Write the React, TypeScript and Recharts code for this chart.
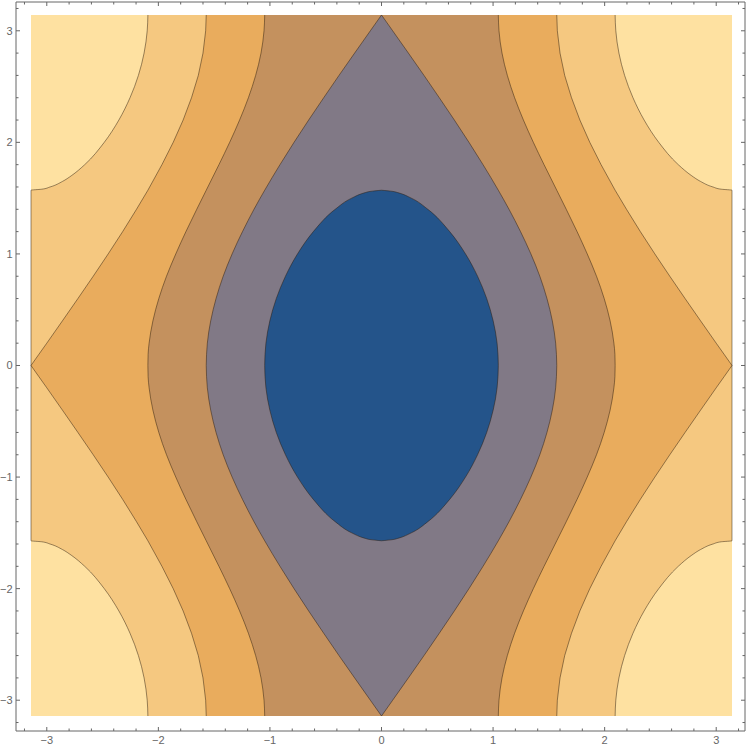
import { ComposedChart, Area, Line, XAxis, YAxis } from "recharts";

const PI = 3.1416;

// y positions of the samples (upper half; the lower half mirrors it)
const yLevels = [0, 0.1, 0.2, 0.4, 0.6, 0.8, 1.0, 1.2, 1.4, 1.5, 1.55, 1.56, 1.571, 1.58, 1.6, 1.65, 1.7, 1.8, 2.0, 2.2, 2.4, 2.6, 2.8, 3.0, 3.1416];

// half-width (|x|) of each contour band at those y
const blueHalf = [1.047, 1.044, 1.036, 1.001, 0.943, 0.861, 0.753, 0.611, 0.415, 0.267, 0.144, 0.104, 0, null, null, null, null, null, null, null, null, null, null, null, null];
const grayHalf = [1.571, 1.568, 1.561, 1.531, 1.483, 1.419, 1.339, 1.246, 1.143, null, null, null, 1.047, null, null, null, null, 0.91, 0.784, 0.653, 0.518, 0.381, 0.241, 0.1, 0];
const brownHalf = [2.094, 2.092, 2.083, 2.049, 1.996, 1.927, 1.844, 1.753, 1.656, null, null, null, 1.571, null, null, null, null, 1.457, 1.361, 1.272, 1.193, 1.128, 1.08, 1.053, 1.047];
const orangeHalf = [3.1416, 3.071, 3.0, 2.86, 2.721, 2.584, 2.45, 2.32, 2.196, null, null, null, 2.094, null, null, null, null, 1.968, 1.867, 1.778, 1.703, 1.642, 1.6, 1.576, 1.571];
const lightHalf = [3.1416, 3.1416, 3.1416, 3.1416, 3.1416, 3.1416, 3.1416, 3.1416, 3.1416, 3.1416, 3.1416, 3.1416, 3.1416, 3.046, 2.971, 2.859, 2.781, 2.66, 2.485, 2.354, 2.254, 2.179, 2.128, 2.1, 2.094];

const plotRange = [-PI, PI];
const frameDomain = [-3.276, 3.258];
const allTicks = [-3.2, -3, -2.8, -2.6, -2.4, -2.2, -2, -1.8, -1.6, -1.4, -1.2, -1, -0.8, -0.6, -0.4, -0.2, 0, 0.2, 0.4, 0.6, 0.8, 1, 1.2, 1.4, 1.6, 1.8, 2, 2.2, 2.4, 2.6, 2.8, 3, 3.2];

const colors = {
  lightest: "#FEE1A1",
  light: "#F5C880",
  orange: "#E9AC5D",
  brown: "#C4915E",
  gray: "#817986",
  blue: "#24548A",
};
const lineColor = "rgba(40,25,10,0.6)";
const frameColor = "#666";
const labelColor = "#666";
const fontFamily = "'Liberation Sans', Arial, sans-serif";

function makeRow(y: number, i: number) {
  // [null, null] keeps a gap out of both edges of a band
  const band = (v: number | null) => (v == null ? [null, null] : [-v, v]);
  const edge = Math.abs(y) >= 1.571;
  return {
    y,
    back: plotRange,
    light: band(lightHalf[i]),
    orange: band(orangeHalf[i]),
    brown: band(brownHalf[i]),
    gray: band(grayHalf[i]),
    blue: band(blueHalf[i]),
    lightL: edge ? -lightHalf[i] : null,
    lightR: edge ? lightHalf[i] : null,
  };
}

const rows: any[] = [];
for (let i = yLevels.length - 1; i > 0; i--) rows.push(makeRow(-yLevels[i], i));
for (let i = 0; i < yLevels.length; i++) rows.push(makeRow(yLevels[i], i));

const fmt = (v: number) => (v < 0 ? "\u2212" + Math.abs(v) : String(v));
const isMajor = (v: number) => Number.isInteger(v);

const BottomTick = (props: any) => {
  const { x, y, payload } = props;
  const v = payload.value;
  return (
    <g>
      <line x1={x} x2={x} y1={y} y2={y - (isMajor(v) ? 4 : 2.5)} stroke={frameColor} strokeWidth={1} />
      {isMajor(v) && (
        <text x={x} y={y + 13} textAnchor="middle" fontSize={11} fill={labelColor} fontFamily={fontFamily}>
          {fmt(v)}
        </text>
      )}
    </g>
  );
};

const TopTick = (props: any) => {
  const { x, y, payload } = props;
  const v = payload.value;
  return <line x1={x} x2={x} y1={y} y2={y + (isMajor(v) ? 4 : 2.5)} stroke={frameColor} strokeWidth={1} />;
};

const LeftTick = (props: any) => {
  const { x, y, payload } = props;
  const v = payload.value;
  return (
    <g>
      <line x1={x} x2={x + (isMajor(v) ? 4 : 2.5)} y1={y} y2={y} stroke={frameColor} strokeWidth={1} />
      {isMajor(v) && (
        <text x={x - 3.5} y={y + 4} textAnchor="end" fontSize={11} fill={labelColor} fontFamily={fontFamily}>
          {fmt(v)}
        </text>
      )}
    </g>
  );
};

const RightTick = (props: any) => {
  const { x, y, payload } = props;
  const v = payload.value;
  return <line x1={x} x2={x - (isMajor(v) ? 4 : 2.5)} y1={y} y2={y} stroke={frameColor} strokeWidth={1} />;
};

export default function App() {
  return (
    <div style={{ position: "absolute", left: 0, top: 0, width: 748, height: 747, background: "#fff" }}>
      <ComposedChart
        width={748}
        height={747}
        data={rows}
        layout="vertical"
        margin={{ top: 0, right: 0, bottom: 0, left: 0 }}
      >
        <XAxis
          type="number"
          domain={frameDomain}
          allowDataOverflow
          ticks={allTicks}
          interval={0}
          height={16}
          tickSize={0}
          tickMargin={0}
          tickLine={false}
          axisLine={{ stroke: frameColor }}
          tick={<BottomTick />}
        />
        <XAxis
          xAxisId="top"
          orientation="top"
          type="number"
          domain={frameDomain}
          allowDataOverflow
          ticks={allTicks}
          interval={0}
          height={2}
          tickSize={0}
          tickMargin={0}
          tickLine={false}
          axisLine={{ stroke: frameColor }}
          tick={<TopTick />}
        />
        <YAxis
          type="number"
          dataKey="y"
          domain={frameDomain}
          allowDataOverflow
          reversed
          ticks={allTicks}
          interval={0}
          width={16}
          tickSize={0}
          tickMargin={0}
          tickLine={false}
          axisLine={{ stroke: frameColor }}
          tick={<LeftTick />}
        />
        <YAxis
          yAxisId="right"
          orientation="right"
          type="number"
          dataKey="y"
          domain={frameDomain}
          allowDataOverflow
          reversed
          ticks={allTicks}
          interval={0}
          width={3}
          tickSize={0}
          tickMargin={0}
          tickLine={false}
          axisLine={{ stroke: frameColor }}
          tick={<RightTick />}
        />

        <Area dataKey="back" type="linear" fill={colors.lightest} fillOpacity={1} stroke="none" isAnimationActive={false} />
        <Area dataKey="light" type="monotone" connectNulls fill={colors.light} fillOpacity={1} stroke="none" isAnimationActive={false} />
        <Line dataKey="lightL" type="monotone" stroke={lineColor} strokeWidth={0.8} dot={false} isAnimationActive={false} />
        <Line dataKey="lightR" type="monotone" stroke={lineColor} strokeWidth={0.8} dot={false} isAnimationActive={false} />
        <Area dataKey="orange" type="linear" connectNulls fill={colors.orange} fillOpacity={1} stroke={lineColor} strokeWidth={0.8} isAnimationActive={false} />
        <Area dataKey="brown" type="monotone" connectNulls fill={colors.brown} fillOpacity={1} stroke={lineColor} strokeWidth={0.8} isAnimationActive={false} />
        <Area dataKey="gray" type="monotone" connectNulls fill={colors.gray} fillOpacity={1} stroke={lineColor} strokeWidth={0.8} isAnimationActive={false} />
        <Area dataKey="blue" type="monotone" connectNulls fill={colors.blue} fillOpacity={1} stroke={lineColor} strokeWidth={0.8} isAnimationActive={false} />
      </ComposedChart>
    </div>
  );
}
